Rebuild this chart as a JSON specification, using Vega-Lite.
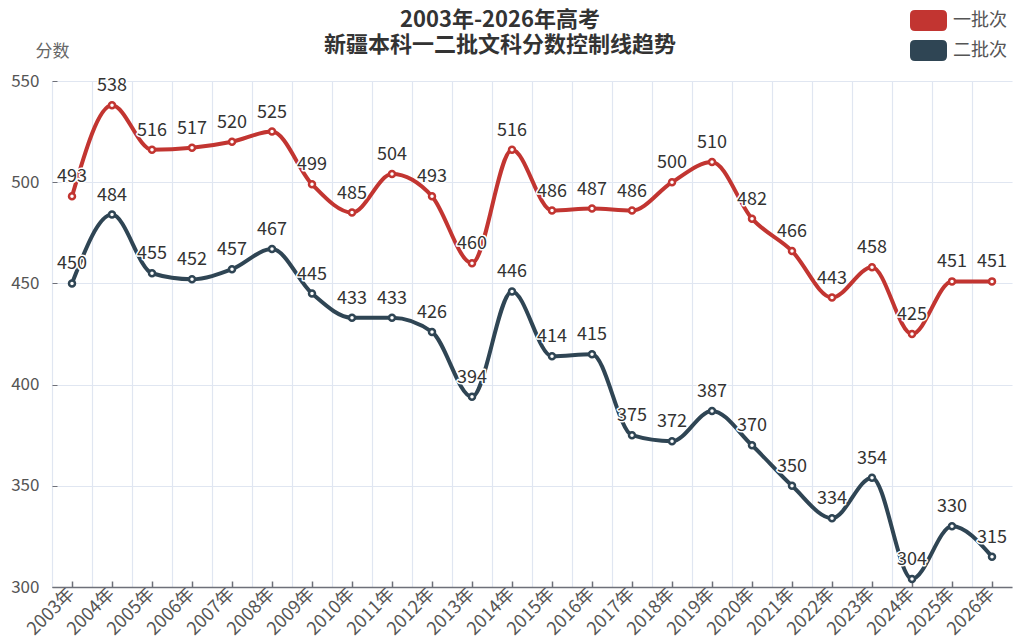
{
  "$schema": "https://vega.github.io/schema/vega-lite/v6.json",
  "width": 960,
  "height": 506,
  "autosize": {"type": "none"},
  "padding": {"left": 52, "top": 81, "right": 12, "bottom": 57},
  "background": "white",
  "title": {
    "text": ["2003年-2026年高考", "新疆本科一二批文科分数控制线趋势"],
    "fontSize": 22,
    "fontWeight": "bold",
    "color": "#333333",
    "font": "Noto Sans CJK SC",
    "anchor": "middle",
    "dx": -32,
    "dy": 79,
    "offset": 24,
    "lineHeight": 25
  },
  "config": {
    "view": {"stroke": null},
    "font": "Noto Sans CJK SC"
  },
  "data": {
    "values": [
      {"year": "2003年", "batch": "一批次", "score": 493},
      {"year": "2004年", "batch": "一批次", "score": 538},
      {"year": "2005年", "batch": "一批次", "score": 516},
      {"year": "2006年", "batch": "一批次", "score": 517},
      {"year": "2007年", "batch": "一批次", "score": 520},
      {"year": "2008年", "batch": "一批次", "score": 525},
      {"year": "2009年", "batch": "一批次", "score": 499},
      {"year": "2010年", "batch": "一批次", "score": 485},
      {"year": "2011年", "batch": "一批次", "score": 504},
      {"year": "2012年", "batch": "一批次", "score": 493},
      {"year": "2013年", "batch": "一批次", "score": 460},
      {"year": "2014年", "batch": "一批次", "score": 516},
      {"year": "2015年", "batch": "一批次", "score": 486},
      {"year": "2016年", "batch": "一批次", "score": 487},
      {"year": "2017年", "batch": "一批次", "score": 486},
      {"year": "2018年", "batch": "一批次", "score": 500},
      {"year": "2019年", "batch": "一批次", "score": 510},
      {"year": "2020年", "batch": "一批次", "score": 482},
      {"year": "2021年", "batch": "一批次", "score": 466},
      {"year": "2022年", "batch": "一批次", "score": 443},
      {"year": "2023年", "batch": "一批次", "score": 458},
      {"year": "2024年", "batch": "一批次", "score": 425},
      {"year": "2025年", "batch": "一批次", "score": 451},
      {"year": "2026年", "batch": "一批次", "score": 451},
      {"year": "2003年", "batch": "二批次", "score": 450},
      {"year": "2004年", "batch": "二批次", "score": 484},
      {"year": "2005年", "batch": "二批次", "score": 455},
      {"year": "2006年", "batch": "二批次", "score": 452},
      {"year": "2007年", "batch": "二批次", "score": 457},
      {"year": "2008年", "batch": "二批次", "score": 467},
      {"year": "2009年", "batch": "二批次", "score": 445},
      {"year": "2010年", "batch": "二批次", "score": 433},
      {"year": "2011年", "batch": "二批次", "score": 433},
      {"year": "2012年", "batch": "二批次", "score": 426},
      {"year": "2013年", "batch": "二批次", "score": 394},
      {"year": "2014年", "batch": "二批次", "score": 446},
      {"year": "2015年", "batch": "二批次", "score": 414},
      {"year": "2016年", "batch": "二批次", "score": 415},
      {"year": "2017年", "batch": "二批次", "score": 375},
      {"year": "2018年", "batch": "二批次", "score": 372},
      {"year": "2019年", "batch": "二批次", "score": 387},
      {"year": "2020年", "batch": "二批次", "score": 370},
      {"year": "2021年", "batch": "二批次", "score": 350},
      {"year": "2022年", "batch": "二批次", "score": 334},
      {"year": "2023年", "batch": "二批次", "score": 354},
      {"year": "2024年", "batch": "二批次", "score": 304},
      {"year": "2025年", "batch": "二批次", "score": 330},
      {"year": "2026年", "batch": "二批次", "score": 315}
    ]
  },
  "resolve": {"axis": {"x": "independent"}},
  "layer": [
    {
      "mark": {"type": "line", "interpolate": "monotone", "strokeWidth": 4},
      "encoding": {
        "x": {
          "field": "year", "type": "ordinal", "sort": null,
          "scale": {"type": "band", "paddingInner": 0, "paddingOuter": 0},
          "axis": {
            "orient": "bottom", "title": null, "grid": true, "gridColor": "#e0e6f1", "gridWidth": 1.2,
            "bandPosition": 0, "labels": false, "ticks": false, "domain": false
          }
        },
        "y": {
          "field": "score", "type": "quantitative",
          "scale": {"domain": [300, 550], "nice": false, "zero": false},
          "axis": {
            "values": [300, 350, 400, 450, 500, 550],
            "title": "分数", "titleAngle": 0, "titleX": 0, "titleY": -30, "titleAlign": "center",
            "titleBaseline": "middle", "titleFontWeight": "normal", "titleFontSize": 17, "titleColor": "#666666",
            "grid": true, "gridColor": "#e0e6f1", "gridWidth": 1.2, "domain": false,
            "ticks": true, "tickSize": -5, "tickColor": "#6e7079",
            "labelFontSize": 17, "labelColor": "#555555", "labelPadding": 18
          }
        },
        "color": {
          "field": "batch", "type": "nominal",
          "scale": {"domain": ["一批次", "二批次"], "range": ["#c23531", "#2f4554"]},
          "legend": {
            "title": null, "orient": "none", "legendX": 858, "legendY": -79,
            "symbolType": "M-0.73,-0.57L0.73,-0.57Q1,-0.57 1,-0.3L1,0.3Q1,0.57 0.73,0.57L-0.73,0.57Q-1,0.57 -1,0.3L-1,-0.3Q-1,-0.57 -0.73,-0.57Z",
            "symbolSize": 1369, "symbolStrokeWidth": 0, "rowPadding": -3,
            "labelFontSize": 18, "labelColor": "#555555", "labelOffset": 6,
            "encode": {"symbols": {"update": {"fill": {"scale": "color", "field": "value"}, "strokeWidth": {"value": 0}}}}
          }
        }
      }
    },
    {
      "mark": {"type": "point", "filled": true, "fill": "white", "size": 36, "strokeWidth": 2.5, "opacity": 1},
      "encoding": {
        "x": {
          "field": "year", "type": "ordinal", "sort": null,
          "axis": {
            "orient": "bottom", "title": null, "grid": false, "domain": true, "domainColor": "#6e7079", "domainWidth": 1.5,
            "ticks": true, "tickSize": -6, "tickColor": "#6e7079", "tickWidth": 1.5,
            "labelAngle": -45, "labelAlign": "right", "labelBaseline": "middle",
            "labelFontSize": 18, "labelColor": "#555555", "labelPadding": 10
          }
        },
        "y": {"field": "score", "type": "quantitative"},
        "stroke": {"field": "batch", "type": "nominal", "scale": {"domain": ["一批次", "二批次"], "range": ["#c23531", "#2f4554"]}, "legend": null}
      }
    },
    {
      "mark": {"type": "text", "fontSize": 18, "color": "white", "stroke": "white", "strokeWidth": 3, "strokeJoin": "round", "dy": -14, "baseline": "alphabetic"},
      "encoding": {
        "x": {"field": "year", "type": "ordinal", "sort": null, "axis": null},
        "y": {"field": "score", "type": "quantitative"},
        "text": {"field": "score", "type": "quantitative"}
      }
    },
    {
      "mark": {"type": "text", "fontSize": 18, "color": "#333333", "dy": -14, "baseline": "alphabetic"},
      "encoding": {
        "x": {"field": "year", "type": "ordinal", "sort": null, "axis": null},
        "y": {"field": "score", "type": "quantitative"},
        "text": {"field": "score", "type": "quantitative"}
      }
    }
  ]
}
